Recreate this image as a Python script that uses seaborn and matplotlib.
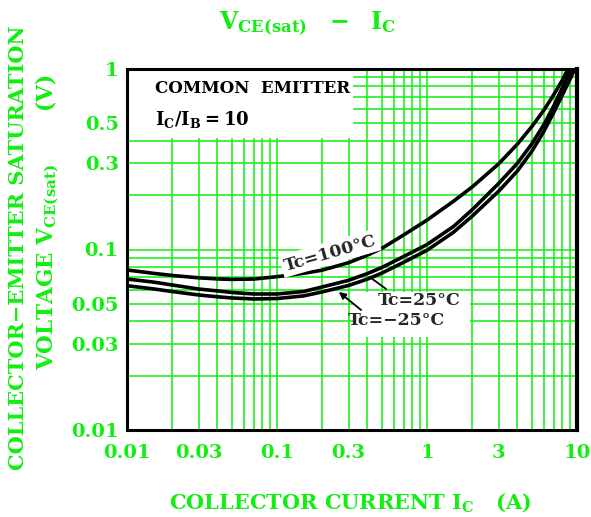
import matplotlib.pyplot as plt
import matplotlib.patches as mpatches
from matplotlib.ticker import FixedLocator, FixedFormatter, LogLocator, NullFormatter
import pandas as pd
import seaborn as sns

ic_comun = [0.01, 0.015, 0.02, 0.03, 0.04, 0.05, 0.07, 0.1, 0.15, 0.2, 0.3,
            0.4, 0.5, 0.7, 1, 1.5, 2, 3, 4, 5, 6, 7, 8]
ic_100 = ic_comun + [8.7, 8.9]
vce_100 = [0.077, 0.0738, 0.0718, 0.0697, 0.0687, 0.0683, 0.0686, 0.0707,
           0.0738, 0.0768, 0.0845, 0.093, 0.1015, 0.1205, 0.1455, 0.185, 0.222,
           0.298, 0.383, 0.48, 0.59, 0.72, 0.87, 1.0, 1.04]
ic_25 = ic_comun + [9, 9.3]
vce_25 = [0.0686, 0.066, 0.0636, 0.0604, 0.059, 0.0578, 0.0567, 0.0567,
          0.0585, 0.062, 0.0675, 0.0735, 0.0795, 0.0915, 0.1065, 0.134, 0.166,
          0.232, 0.30, 0.385, 0.49, 0.625, 0.79, 0.97, 1.03]
ic_m25 = ic_comun + [9, 9.8]
vce_m25 = [0.063, 0.0605, 0.0585, 0.056, 0.0547, 0.0539, 0.0532, 0.0535,
           0.0553, 0.0582, 0.0632, 0.0685, 0.074, 0.085, 0.099, 0.1245, 0.153,
           0.210, 0.272, 0.35, 0.45, 0.575, 0.72, 0.88, 1.03]

xticks = [0.01, 0.03, 0.1, 0.3, 1, 3, 10]
xticklabels = ["0.01", "0.03", "0.1", "0.3", "1", "3", "10"]
yticks = [0.01, 0.03, 0.05, 0.1, 0.3, 0.5, 1]
yticklabels = ["0.01", "0.03", "0.05", "0.1", "0.3", "0.5", "1"]

df = pd.concat([
    pd.DataFrame({"ic": ic_100, "vce": vce_100, "tc": "100"}),
    pd.DataFrame({"ic": ic_25, "vce": vce_25, "tc": "25"}),
    pd.DataFrame({"ic": ic_m25, "vce": vce_m25, "tc": "-25"}),
])

sns.set_style("white")
plt.rcParams["font.family"] = ["DejaVu Serif"]
plt.rcParams["font.weight"] = "bold"
plt.rcParams["mathtext.fontset"] = "custom"
plt.rcParams["mathtext.rm"] = "DejaVu Serif:bold"
plt.rcParams["mathtext.it"] = "DejaVu Serif:bold"
plt.rcParams["mathtext.bf"] = "DejaVu Serif:bold"

verde = "#11ee11"

fig = plt.figure(figsize=(5.91, 5.17), dpi=100)
ax = fig.add_axes([127 / 591, 87 / 517, 450 / 591, 361 / 517])
ax.set_xscale("log")
ax.set_yscale("log")

sns.lineplot(data=df, x="ic", y="vce", hue="tc", palette=["black"] * 3,
             linewidth=2.6, legend=False, estimator=None, ax=ax, zorder=3)

ax.set_xlim(0.01, 10)
ax.set_ylim(0.01, 1)

ax.xaxis.set_major_locator(FixedLocator(xticks))
ax.xaxis.set_major_formatter(FixedFormatter(xticklabels))
ax.yaxis.set_major_locator(FixedLocator(yticks))
ax.yaxis.set_major_formatter(FixedFormatter(yticklabels))
ax.xaxis.set_minor_locator(LogLocator(base=10, subs=range(1, 10), numticks=20))
ax.yaxis.set_minor_locator(LogLocator(base=10, subs=range(1, 10), numticks=20))
ax.xaxis.set_minor_formatter(NullFormatter())
ax.yaxis.set_minor_formatter(NullFormatter())

ax.grid(True, which="both", color=verde, linewidth=1.1)
ax.set_axisbelow(True)
ax.tick_params(axis="both", which="both", direction="in", color=verde,
               length=10, width=1.1, labelcolor=verde, labelsize=14)
ax.tick_params(axis="x", pad=10)
ax.tick_params(axis="y", pad=6)
for s in ax.spines.values():
    s.set_color("black")
    s.set_linewidth(2.2)
ax.spines["right"].set_linewidth(3)

ax.set_xlabel("")
ax.set_ylabel("")

# Caja de condiciones
ax.add_patch(mpatches.Rectangle((0, 0.809), 0.502, 0.191, transform=ax.transAxes,
                                facecolor="white", edgecolor="none", zorder=1.5))
ax.text(0.063, 0.945, "COMMON  EMITTER", transform=ax.transAxes, fontsize=12,
        fontweight="bold", color="black", va="center", zorder=4)
ax.text(0.063, 0.86, r"$\mathrm{I_C/I_B{=}10}$", transform=ax.transAxes,
        fontsize=13, color="black", va="center", zorder=4)

# Zona blanca detrás de las etiquetas Tc=25 y Tc=-25
ax.add_patch(mpatches.Rectangle((0.321, 0.0327), 1.94 - 0.321, 0.058 - 0.0327,
                                facecolor="white", edgecolor="none", zorder=1.5))

ax.text(0.2256, 0.0955, "Tc=100°C", rotation=16, fontsize=12.5, fontweight="bold",
        ha="center", va="center", zorder=4,
        bbox=dict(facecolor="white", edgecolor="none", pad=2))
ax.text(0.884, 0.0525, "Tc=25°C", fontsize=12.5, fontweight="bold",
        ha="center", va="center", zorder=4)
ax.text(0.621, 0.0402, "Tc=−25°C", fontsize=12.5, fontweight="bold",
        ha="center", va="center", zorder=4)
ax.annotate("", xy=(0.4, 0.072), xytext=(0.552, 0.0592),
            arrowprops=dict(arrowstyle="-", color="black", lw=1.3), zorder=4)
ax.annotate("", xy=(0.25, 0.0595), xytext=(0.376, 0.0452),
            arrowprops=dict(arrowstyle="-|>", color="black", lw=1.3,
                            mutation_scale=10), zorder=4)

# Títulos y ejes
fig.text(308 / 591, 1 - 24 / 517, r"$\mathrm{V_{CE(sat)}\ \ -\ \ I_C}$",
         fontsize=17, color=verde, ha="center", va="center")
fig.text(350 / 591, 1 - 503 / 517, r"COLLECTOR CURRENT $\mathrm{I_C}$   (A)",
         fontsize=15, fontweight="bold", color=verde, ha="center", va="center")
fig.text(18 / 591, 1 - 247.5 / 517, "COLLECTOR−EMITTER SATURATION", rotation=90,
         fontsize=15, fontweight="bold", color=verde, ha="center", va="center")
fig.text(47 / 591, 1 - 222 / 517, r"VOLTAGE $\mathrm{V_{CE(sat)}}$       (V)",
         rotation=90, fontsize=15.5, fontweight="bold", color=verde,
         ha="center", va="center")

plt.savefig("out.png", dpi=100)
